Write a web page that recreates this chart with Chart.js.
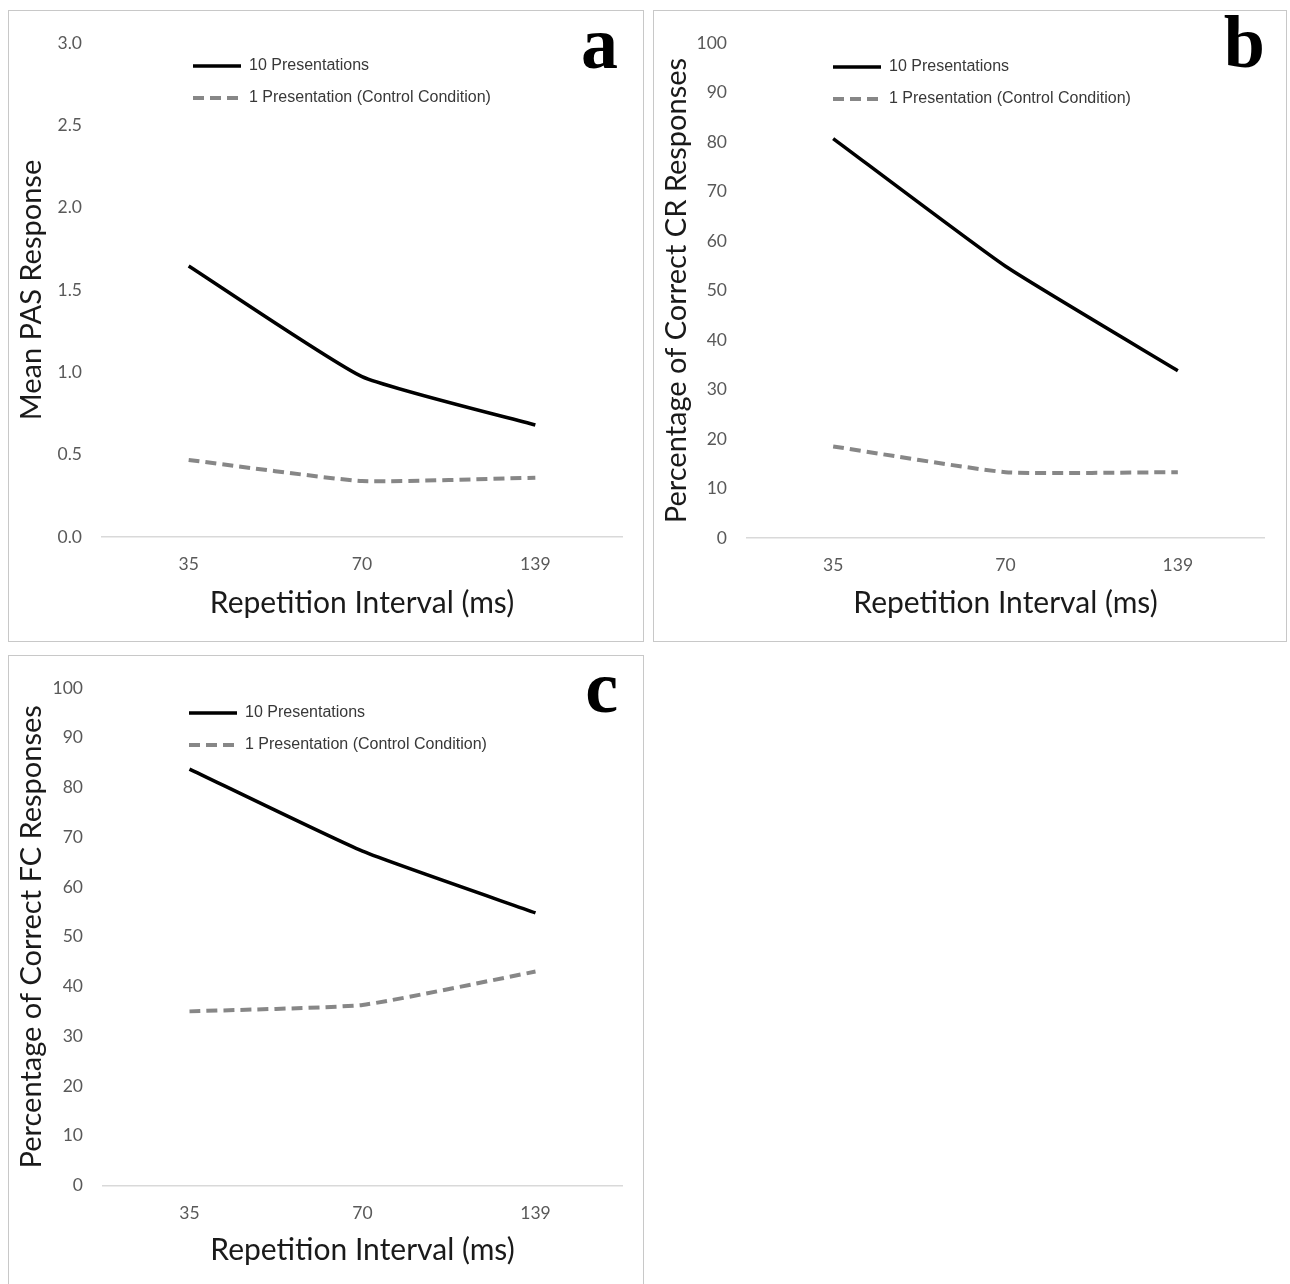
<!DOCTYPE html>
<html>
<head>
<meta charset="utf-8">
<script src="https://cdn.jsdelivr.net/npm/chart.js@4.4.0/dist/chart.umd.min.js"></script>
<style>
  body { margin: 0; background: #fff; width: 1290px; height: 1284px; overflow: hidden; position: relative; }
  .panel { position: absolute; box-sizing: border-box; border: 1px solid #c8c8c8; background: #fff; }
  .panel canvas { display: block; }
</style>
</head>
<body>
<div class="panel" style="left:8px;top:10px;width:636px;height:632px"><canvas id="chartA" width="634" height="630"></canvas></div>
<div class="panel" style="left:653px;top:10px;width:634px;height:632px"><canvas id="chartB" width="632" height="630"></canvas></div>
<div class="panel" style="left:8px;top:655px;width:636px;height:640px"><canvas id="chartC" width="634" height="638"></canvas></div>

<script>
// Datos
const intervals = ['35', '70', '139'];
const seriesNames = ['10 Presentations', '1 Presentation (Control Condition)'];

const pasTen = [1.646, 0.974, 0.68];
const pasOne = [0.468, 0.34, 0.36];

const crTen = [80.7, 54.9, 33.8];
const crOne = [18.5, 13.3, 13.3];

const fcTen = [83.7, 67.2, 54.8];
const fcOne = [35.0, 36.3, 43.0];

const pasRange = [0, 3, 0.5];
const pctRange = [0, 100, 10];

const xTitle = 'Repetition Interval (ms)';

// Estilos comunes
const tickFont = { family: 'Lato', size: 17.5 };
const xTitleFont = { family: 'Lato', size: 30 };
const yTitleFont = { family: 'Lato', size: 29 };
const legendFont = { family: '"Liberation Sans"', size: 16 };

// Coloca la leyenda dentro del área y dibuja la letra del panel
const panelExtras = {
    id: 'panelExtras',
    afterLayout(chart, args, opts) {
        const lg = chart.legend;
        if (!lg) return;
        lg.left = opts.legendX;
        lg.top = opts.legendY;
        lg.right = lg.left + lg.width;
        lg.bottom = lg.top + lg.height;
    },
    afterDraw(chart, args, opts) {
        const ctx = chart.ctx;
        ctx.save();
        ctx.font = 'bold 74px "Liberation Serif"';
        ctx.fillStyle = '#000';
        ctx.textAlign = 'right';
        ctx.textBaseline = 'alphabetic';
        ctx.fillText(opts.letter, opts.letterX, opts.letterY);
        ctx.restore();
    }
};

function makePanel(id, cfg) {
    const canvas = document.getElementById(id);
    const W = canvas.width, H = canvas.height;
    const area = cfg.area;

    return new Chart(canvas, {
        type: 'line',
        data: {
            labels: intervals,
            datasets: [{
                label: seriesNames[0],
                data: cfg.ten,
                borderColor: '#000',
                backgroundColor: '#000',
                borderWidth: 3.5,
                pointRadius: 0,
                tension: 0.15,
                fill: false
            }, {
                label: seriesNames[1],
                data: cfg.one,
                borderColor: '#878787',
                backgroundColor: '#878787',
                borderWidth: 4,
                borderDash: [11, 6],
                pointRadius: 0,
                tension: 0.15,
                fill: false
            }]
        },
        options: {
            responsive: false,
            animation: false,
            events: [],
            layout: { padding: { top: area.top, right: W - area.right, bottom: 0, left: 0 } },
            scales: {
                x: {
                    offset: true,
                    grid: { display: false, drawTicks: false },
                    border: { display: true, color: '#d9d9d9', width: 1.5 },
                    ticks: { color: '#595959', font: tickFont, padding: 17 },
                    title: {
                        display: true, text: xTitle, color: '#1a1a1a', font: xTitleFont,
                        padding: { top: 0, bottom: H - cfg.xTitleY - xTitleFont.size * 0.6 }
                    },
                    afterFit: s => { s.height = H - area.bottom; }
                },
                y: {
                    min: cfg.range[0],
                    max: cfg.range[1],
                    grid: { display: false, drawTicks: false },
                    border: { display: false },
                    ticks: {
                        stepSize: cfg.range[2],
                        color: '#595959',
                        font: tickFont,
                        padding: 20,
                        callback: v => cfg.range[1] <= 3 ? Number(v).toFixed(1) : v
                    },
                    title: {
                        display: true, text: cfg.yTitle, color: '#1a1a1a', font: yTitleFont,
                        padding: { top: cfg.yTitleX - yTitleFont.size * 0.6, bottom: 0 }
                    },
                    afterFit: s => { s.width = area.left; }
                }
            },
            plugins: {
                tooltip: { enabled: false },
                legend: {
                    position: 'chartArea',
                    align: 'start',
                    labels: {
                        color: '#383838',
                        font: legendFont,
                        boxWidth: 48,
                        boxHeight: 0,
                        padding: 16
                    }
                },
                panelExtras: cfg.extras
            }
        },
        plugins: [panelExtras]
    });
}

makePanel('chartA', {
    ten: pasTen, one: pasOne, range: pasRange,
    yTitle: 'Mean PAS Response',
    area: { left: 93, top: 32, right: 613, bottom: 526 },
    xTitleY: 592.5, yTitleX: 22.5,
    extras: { legendX: 168, legendY: 31, letter: 'a', letterX: 609, letterY: 57 }
});

makePanel('chartB', {
    ten: crTen, one: crOne, range: pctRange,
    yTitle: 'Percentage of Correct CR Responses',
    area: { left: 93, top: 32, right: 610, bottom: 527 },
    xTitleY: 592.5, yTitleX: 22.5,
    extras: { legendX: 163, legendY: 32, letter: 'b', letterX: 611, letterY: 56 }
});

makePanel('chartC', {
    ten: fcTen, one: fcOne, range: pctRange,
    yTitle: 'Percentage of Correct FC Responses',
    area: { left: 94, top: 32, right: 613, bottom: 529.5 },
    xTitleY: 594, yTitleX: 22.5,
    extras: { legendX: 164, legendY: 33, letter: 'c', letterX: 609, letterY: 56 }
});
</script>
</body>
</html>
